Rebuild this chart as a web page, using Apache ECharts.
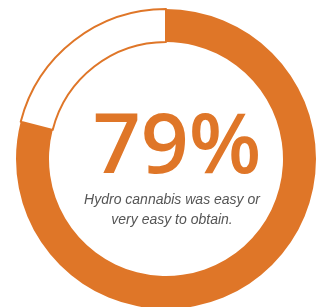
<!DOCTYPE html>
<html>
<head>
<meta charset="utf-8">
<script src="https://cdn.jsdelivr.net/npm/echarts@6/dist/echarts.min.js"></script>
<style>
  html, body { margin: 0; padding: 0; background: #fff; }
  #chart { width: 323px; height: 307px; }
</style>
</head>
<body>
<div id="chart"></div>
<script>
const categories = ["Easy or very easy", "Other"];
const values = [79, 21];
const bigLabel = "79%";
const caption = ["Hydro cannabis was easy or", "very easy to obtain."];

const orange = "#DF7628";

const chart = echarts.init(document.getElementById("chart"));

const options = {
  backgroundColor: "#fff",
  animation: false,
  title: [
    {
      text: bigLabel,
      left: 172,
      top: 102,
      textAlign: "center",
      textStyle: {
        color: orange,
        fontFamily: "Open Sans",
        fontWeight: 600,
        fontSize: 84,
        lineHeight: 84,
      },
    },
    {
      text: caption.join("\n"),
      left: 167,
      top: 185,
      textAlign: "center",
      textStyle: {
        color: "#555",
        fontFamily: "Liberation Sans",
        fontStyle: "italic",
        fontWeight: "normal",
        fontSize: 14,
        lineHeight: 20,
      },
    },
  ],
  series: [
    {
      type: "pie",
      silent: true,
      center: [166, 159],
      radius: [117, 150],
      startAngle: 90,
      clockwise: true,
      label: { show: false },
      labelLine: { show: false },
      data: [
        { name: categories[0], value: values[0], itemStyle: { color: orange } },
        {
          name: categories[1],
          value: values[1],
          itemStyle: { color: "#fff", borderColor: orange, borderWidth: 2 },
        },
      ],
    },
  ],
};

chart.setOption(options);
</script>
</body>
</html>
